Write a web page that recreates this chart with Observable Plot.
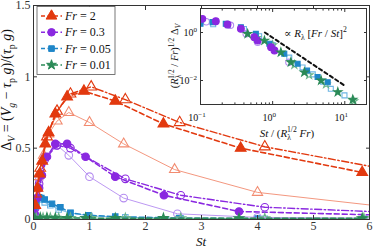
<!DOCTYPE html>
<html><head><meta charset="utf-8">
<script src="https://cdn.jsdelivr.net/npm/d3@7"></script>
<script src="https://cdn.jsdelivr.net/npm/@observablehq/plot@0.6"></script>
<style>
body{margin:0;background:#fff;}
#wrap{position:relative;width:374px;height:249px;overflow:hidden;background:#fff;}
#wrap svg{position:absolute;left:0;top:0;}
</style></head><body><div id="wrap"></div>
<script>
// ---------- data (main panel: St vs Delta_V) ----------
const frLabels = ["2", "0.3", "0.05", "0.01"];
const xTicks = [0, 1, 2, 3, 4, 5, 6];
const yTicks = [0, 0.5, 1, 1.5];

const stFr2Filled = [0.03, 0.07, 0.11, 0.155, 0.21, 0.27, 0.39, 0.60, 0.90, 1.46, 2.32, 3.70, 5.87];
const dvFr2Filled = [0.10, 0.22, 0.32, 0.41, 0.53, 0.61, 0.74, 0.86, 0.90, 0.83, 0.67, 0.50, 0.33];
const stFr2Open = [0.05, 0.12, 0.24, 0.42, 0.66, 1.03, 1.64, 2.61, 4.13, 6.6];
const dvFr2Open = [0.18, 0.36, 0.58, 0.76, 0.88, 0.93, 0.84, 0.68, 0.51, 0.33];
const stFr2Thin = [0.03, 0.07, 0.18, 0.27, 0.42, 0.63, 1.00, 1.61, 2.52, 4.00, 6.5];
const dvFr2Thin = [0.10, 0.30, 0.45, 0.60, 0.69, 0.75, 0.68, 0.53, 0.35, 0.19, 0.08];

const stFr03Filled = [0.02, 0.06, 0.10, 0.15, 0.24, 0.39, 0.60, 0.93, 1.46, 2.33, 3.67, 6.5];
const dvFr03Filled = [0.04, 0.15, 0.22, 0.31, 0.44, 0.53, 0.53, 0.44, 0.30, 0.17, 0.056, 0.028];
const stFr03Open = [0.03, 0.10, 0.20, 0.42, 0.66, 1.64, 2.63, 4.13, 6.5];
const dvFr03Open = [0.08, 0.25, 0.42, 0.52, 0.50, 0.285, 0.17, 0.086, 0.048];
const stFr03Thin = [0.03, 0.10, 0.20, 0.42, 0.63, 1.00, 1.61, 2.57, 4.00, 6.5];
const dvFr03Thin = [0.08, 0.28, 0.44, 0.52, 0.45, 0.30, 0.15, 0.04, 0.015, 0.008];

const stFr005Filled = [0.02, 0.05, 0.10, 0.14, 0.20, 0.33, 0.48, 0.66, 0.98, 1.46, 2.60, 4.00, 5.90];
const dvFr005Filled = [0.05, 0.12, 0.156, 0.15, 0.14, 0.11, 0.086, 0.047, 0.03, 0.02, 0.01, 0.006, 0.004];
const stFr005Open = [0.05, 0.10, 0.20, 0.30, 0.45, 0.66, 1.00, 1.64, 2.63, 4.13, 5.90];
const dvFr005Open = [0.10, 0.14, 0.12, 0.10, 0.07, 0.045, 0.025, 0.015, 0.008, 0.005, 0.003];

const stFr001Filled = [0.02, 0.12, 0.24, 0.39, 0.60, 0.93, 1.46, 2.32, 3.67, 5.87];
const dvFr001Filled = [0.008, 0.012, 0.012, 0.011, 0.010, 0.010, 0.009, 0.009, 0.008, 0.008];
const stFr001Open = [0.05, 0.17, 0.30, 0.45, 0.66, 1.03, 1.64, 2.63, 4.13, 5.90];
const dvFr001Open = [0.010, 0.011, 0.011, 0.010, 0.010, 0.009, 0.009, 0.008, 0.008, 0.008];

// ---------- data (inset: collapsed, log-log) ----------
const insXTicks = [0.1, 1, 10];
const insXTickExp = ["−1", "0", "1"];
const insXMinor = [0.2,0.3,0.4,0.5,0.6,0.7,0.8,0.9,2,3,4,5,6,7,8,9,20];
const insYTicks = [0.01, 1];
const insYTickExp = ["−2", "0"];

const inFr03FX = [0.106, 0.163, 0.237, 0.363, 0.557, 0.62, 0.95, 1.06];
const inFr03FY = [3.7, 2.96, 2.15, 1.43, 0.64, 0.46, 0.245, 0.178];
const inFr03OX = [0.12, 0.26, 0.43, 0.62, 1.68];
const inFr03OY = [2.8, 2.0, 0.88, 0.39, 0.058];
const inFr005FX = [0.10, 0.147, 0.224, 0.363, 0.585, 0.90, 1.45, 2.22, 3.0, 4.2, 5.8];
const inFr005FY = [2.3, 2.7, 2.3, 1.66, 0.88, 0.34, 0.13, 0.05, 0.026, 0.014, 0.0085];
const inFr005OX = [0.15, 0.24, 0.40, 0.65, 1.0, 1.7, 2.6, 3.6, 5.0, 6.4, 9.9];
const inFr005OY = [2.2, 2.0, 1.4, 0.7, 0.3, 0.09, 0.035, 0.018, 0.009, 0.0045, 0.0024];
const inFr001FX = [0.45, 0.77, 1.3, 1.79, 2.75, 4.7, 8.0, 12.9];
const inFr001FY = [0.88, 0.46, 0.15, 0.058, 0.022, 0.010, 0.0033, 0.0016];
const inFr001OX = [0.6, 1.0, 2.0, 3.2, 5.5, 13.3];
const inFr001OY = [0.6, 0.3, 0.045, 0.017, 0.007, 0.0014];
const lawX = [0.78, 10];
const lawY = [1.0, 0.0061];

// ---------- styles ----------
const RED = "#e2390f", RED_L = "#f28b70";
const PUR = "#8a28e0", PUR_L = "#b48cf0";
const BLU = "#1f86c8", BLU_L = "#6db5e3";
const GRN = "#2b8a57", GRN_L = "#6ab48a";
const DASH = "5,3", DASHDOT = "7,2.5,1.5,2.5";
const FONT = "'Liberation Serif', 'DejaVu Serif', serif";
const AX = "#333";

function rows(xs, ys) { return xs.map((x, i) => ({x, y: ys[i]})); }
function series(xs, ys, o) {
  const d = rows(xs, ys);
  const m = [];
  if (o.line !== false) m.push(Plot.line(d, {x: "x", y: "y", stroke: o.color, strokeWidth: o.w, strokeDasharray: o.dash, clip: true}));
  m.push(Plot.dot(d, {x: "x", y: "y", symbol: o.sym, r: o.r, fill: o.filled ? o.color : "none", stroke: o.color, strokeWidth: 1.1, clip: true}));
  return m;
}

const main = Plot.plot({
  width: 374, height: 249,
  marginLeft: 33, marginRight: 5, marginTop: 5, marginBottom: 30,
  style: {fontFamily: FONT, fontSize: "12px", background: "white", color: AX},
  x: {domain: [0, 6]},
  y: {domain: [0, 1.5]},
  marks: [
    ...series(stFr005Open, dvFr005Open, {color: BLU_L, sym: "square", r: 3.1, filled: false, w: 0.9}),
    ...series(stFr005Filled, dvFr005Filled, {color: BLU, sym: "square", r: 3.1, filled: true, w: 1.5, dash: DASH}),
    ...series(stFr03Thin, dvFr03Thin, {color: PUR_L, sym: "circle", r: 3.8, filled: false, w: 0.9}),
    ...series(stFr2Thin, dvFr2Thin, {color: RED_L, sym: "triangle", r: 3.8, filled: false, w: 0.9}),
    ...series(stFr03Open, dvFr03Open, {color: PUR, sym: "circle", r: 3.8, filled: false, w: 1.4, dash: DASHDOT}),
    ...series(stFr03Filled, dvFr03Filled, {color: PUR, sym: "circle", r: 3.8, filled: true, w: 1.6, dash: DASH}),
    ...series(stFr2Open, dvFr2Open, {color: RED, sym: "triangle", r: 4, filled: false, w: 1.4, dash: DASHDOT}),
    ...series(stFr2Filled, dvFr2Filled, {color: RED, sym: "triangle", r: 4, filled: true, w: 1.6, dash: DASH}),
    ...series(stFr001Open, dvFr001Open, {color: GRN_L, sym: "star", r: 3.0, filled: false, w: 0.9}),
    ...series(stFr001Filled, dvFr001Filled, {color: GRN, sym: "star", r: 3.0, filled: true, w: 1.5, dash: DASH}),
    Plot.frame({stroke: AX}),
    Plot.axisX(xTicks, {anchor: "bottom", tickSize: -4, tickPadding: 6, tickFormat: d => String(d), label: null, stroke: AX}),
    Plot.axisX(xTicks, {anchor: "top", tickSize: -4, tickFormat: () => "", label: null, stroke: AX}),
    Plot.axisY(yTicks, {anchor: "left", tickSize: -4, tickPadding: 7, tickFormat: d => String(d), label: null, stroke: AX}),
    Plot.axisY(yTicks, {anchor: "right", tickSize: -4, tickFormat: () => "", label: null, stroke: AX})
  ]
});

const inset = Plot.plot({
  width: 214, height: 145,
  marginLeft: 40, marginRight: 8, marginTop: 8, marginBottom: 41,
  style: {fontFamily: FONT, fontSize: "10px", background: "transparent", color: AX},
  x: {type: "log", domain: [0.1, 20]},
  y: {type: "log", domain: [1e-3, 10]},
  marks: [
    Plot.frame({fill: "white", stroke: "none"}),
    Plot.line(rows(lawX, lawY), {x: "x", y: "y", stroke: "#111", strokeWidth: 2, strokeDasharray: "3.5,3"}),
    ...series(inFr005OX, inFr005OY, {color: BLU_L, sym: "square", r: 2.8, filled: false, line: false}),
    ...series(inFr03OX, inFr03OY, {color: PUR_L, sym: "circle", r: 3.2, filled: false, line: false}),
    ...series(inFr001OX, inFr001OY, {color: GRN_L, sym: "star", r: 2.5, filled: false, line: false}),
    ...series(inFr005FX, inFr005FY, {color: BLU, sym: "square", r: 2.8, filled: true, line: false}),
    ...series(inFr03FX, inFr03FY, {color: PUR, sym: "circle", r: 3.4, filled: true, line: false}),
    ...series(inFr001FX, inFr001FY, {color: GRN, sym: "star", r: 2.6, filled: true, line: false}),
    Plot.frame({stroke: AX}),
    Plot.axisX(insXTicks, {anchor: "bottom", tickSize: -3, tickFormat: () => "", label: null, stroke: AX}),
    Plot.axisX(insXMinor, {anchor: "bottom", tickSize: -1.6, tickFormat: () => "", label: null, stroke: AX}),
    Plot.axisX(insXTicks, {anchor: "top", tickSize: -3, tickFormat: () => "", label: null, stroke: AX}),
    Plot.axisX(insXMinor, {anchor: "top", tickSize: -1.6, tickFormat: () => "", label: null, stroke: AX}),
    Plot.axisY(insYTicks, {anchor: "left", tickSize: -3, tickFormat: () => "", label: null, stroke: AX}),
    Plot.axisY(insYTicks, {anchor: "right", tickSize: -3, tickFormat: () => "", label: null, stroke: AX})
  ]
});

const wrap = document.getElementById("wrap");
wrap.appendChild(main);
wrap.appendChild(inset);
inset.style.left = "160px";
inset.style.top = "0px";

// rich-text helper: segments with italic / sub / sup
function rich(textSel, segs, size) {
  let shift = 0;
  segs.forEach(s => {
    const target = s.sub ? size * 0.28 : s.sup ? -size * 0.42 : 0;
    const ts = textSel.append("tspan").text(s.t).attr("dy", target - shift);
    shift = target;
    if (s.i) ts.attr("font-style", "italic");
    if (s.sub || s.sup) ts.attr("font-size", size * 0.7);
    if (s.dx) ts.attr("dx", s.dx);
  });
}

const ms = d3.select(main);
// main y label
rich(ms.append("text").attr("font-family", FONT).attr("font-size", 14).attr("fill", "#111")
  .attr("text-anchor", "middle").attr("transform", "translate(11,90) rotate(-90)"),
  [{t: "Δ"}, {t: "V", sub: true, i: true}, {t: " = ("}, {t: "V", i: true}, {t: "g", sub: true, i: true},
   {t: " − "}, {t: "τ", i: true}, {t: "p", sub: true}, {t: " "}, {t: "g", i: true}, {t: ")/("},
   {t: "τ", i: true}, {t: "p", sub: true}, {t: " "}, {t: "g", i: true}, {t: ")"}], 14);
// main x label
ms.append("text").attr("font-family", FONT).attr("font-size", 13).attr("font-style", "italic")
  .attr("fill", "#111").attr("text-anchor", "middle").attr("x", 201).attr("y", 246).text("St");

// legend
const lg = ms.append("g");
lg.append("rect").attr("x", 37).attr("y", 6.5).attr("width", 78).attr("height", 68)
  .attr("fill", "white").attr("stroke", "#555").attr("stroke-width", 0.8);
const legColors = [RED, PUR, BLU, GRN];
const legSyms = [d3.symbolTriangle, d3.symbolCircle, d3.symbolSquare, d3.symbolStar];
const legSizes = [50, 45, 32, 30];
frLabels.forEach((lab, i) => {
  const y = 16 + i * 16.3;
  lg.append("line").attr("x1", 41).attr("x2", 62).attr("y1", y).attr("y2", y)
    .attr("stroke", legColors[i]).attr("stroke-width", 1.5).attr("stroke-dasharray", "4,2.5");
  lg.append("path").attr("d", d3.symbol(legSyms[i], legSizes[i])())
    .attr("transform", `translate(51.5,${y})`).attr("fill", legColors[i]).attr("stroke", legColors[i]);
  rich(lg.append("text").attr("x", 65).attr("y", y + 4).attr("text-anchor", "start")
    .attr("font-family", FONT).attr("font-size", 12).attr("fill", "#111"),
    [{t: "Fr", i: true}, {t: " = " + lab}], 12);
});

// inset texts
const is = d3.select(inset);
const sx = inset.scale("x"), sy = inset.scale("y");
insXTicks.forEach((v, i) => {
  rich(is.append("text").attr("x", sx.apply(v) - 3).attr("y", 121).attr("text-anchor", "middle")
    .attr("font-family", FONT).attr("font-size", 10).attr("fill", "#111"),
    [{t: "10"}, {t: insXTickExp[i], sup: true}], 10);
});
insYTicks.forEach((v, i) => {
  rich(is.append("text").attr("x", 37).attr("y", sy.apply(v) + 4).attr("text-anchor", "end")
    .attr("font-family", FONT).attr("font-size", 10).attr("fill", "#111"),
    [{t: "10"}, {t: insYTickExp[i], sup: true}], 10);
});
rich(is.append("text").attr("x", 127).attr("y", 137).attr("text-anchor", "middle")
  .attr("font-family", FONT).attr("font-size", 11).attr("fill", "#111"),
  [{t: "St", i: true}, {t: " / ("}, {t: "R", i: true}, {t: "λ", sub: true}, {t: "1/2", sup: true, dx: -4},
   {t: " "}, {t: "Fr", i: true}, {t: ")"}], 11);
rich(is.append("text").attr("transform", "translate(18,56) rotate(-90)").attr("text-anchor", "middle")
  .attr("font-family", FONT).attr("font-size", 10.5).attr("fill", "#111"),
  [{t: "("}, {t: "R", i: true}, {t: "λ", sub: true}, {t: "1/2", sup: true, dx: -4}, {t: " / "},
   {t: "Fr", i: true}, {t: ")"}, {t: "1/2", sup: true}, {t: " Δ"}, {t: "V", sub: true, i: true}], 10.5);
rich(is.append("text").attr("x", 124).attr("y", 37).attr("text-anchor", "start")
  .attr("font-family", FONT).attr("font-size", 11).attr("fill", "#111"),
  [{t: "∝ "}, {t: "R", i: true}, {t: "λ", sub: true}, {t: " ["}, {t: "Fr", i: true}, {t: " / "},
   {t: "St", i: true}, {t: "]"}, {t: "2", sup: true}], 11);
</script>
</body></html>
